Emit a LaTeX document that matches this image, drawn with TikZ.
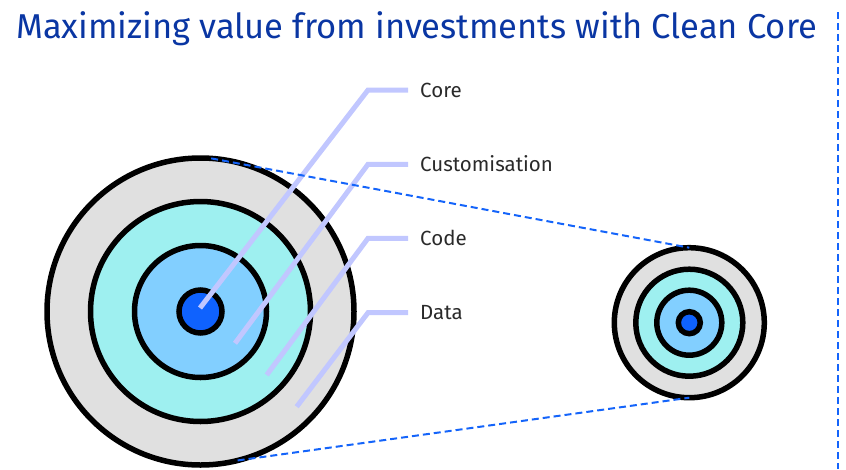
\documentclass[tikz,border=0pt]{standalone}
\usepackage{fontspec}
\setmainfont{Fira Sans}
\definecolor{titleblue}{HTML}{0A36A3}
\definecolor{dashblue}{HTML}{1464FA}
\definecolor{coreblue}{HTML}{0F62FE}
\definecolor{codeblue}{HTML}{82CFFF}
\definecolor{custteal}{HTML}{9EF0F0}
\definecolor{datagray}{HTML}{E0E0E0}
\definecolor{leader}{HTML}{C1C7FF}
\definecolor{labelgray}{HTML}{2A2A2A}
\begin{document}
\begin{tikzpicture}[x=1pt,y=-1pt,
  ring/.style={circle,draw=black,line width=5.5pt,inner sep=0pt,outer sep=0pt,minimum size=#1},
  leaderline/.style={draw=leader,line width=5pt,line cap=butt,line join=miter},
  dashline/.style={draw=dashblue,line width=2pt,dash pattern=on 7pt off 4pt},
  lbl/.style={anchor=base west,inner sep=0pt,font=\fontsize{20.5}{24}\selectfont,text=labelgray}]
\useasboundingbox (0,0) rectangle (846,469);
% title
\node[anchor=base west,inner sep=0pt,text=titleblue,font=\fontsize{34.5}{40}\selectfont] (title) at (16,38) {Maximizing value from investments with Clean Core};
% big target
\node[ring=307pt,fill=datagray] (bigdata) at (200.5,311.5) {};
\node[ring=220pt,fill=custteal] (bigcust) at (200.5,311.5) {};
\node[ring=132pt,fill=codeblue] (bigcode) at (200.5,311.5) {};
\node[ring=43pt,fill=coreblue] (bigcore) at (200.5,311.5) {};
% small target
\node[ring=150pt,fill=datagray] (smalldata) at (689.3,322.7) {};
\node[ring=107pt,fill=custteal] (smallcust) at (689.3,322.7) {};
\node[ring=65pt,fill=codeblue] (smallcode) at (689.3,322.7) {};
\node[ring=22pt,fill=coreblue] (smallcore) at (689.3,322.7) {};
% labels
\node[lbl] (lcore) at (420,97) {Core};
\node[lbl] (lcust) at (420,171) {Customisation};
\node[lbl] (lcode) at (420,245.3) {Code};
\node[lbl] (ldata) at (420,319.6) {Data};
% leader points
\coordinate (pcore) at (200,308);
\coordinate (pcust) at (235,343.3);
\coordinate (pcode) at (266.7,375);
\coordinate (pdata) at (296.7,406.7);
\coordinate (kcore) at (368,90);
\coordinate (kcust) at (368,164.3);
\coordinate (kcode) at (368,238.3);
\coordinate (kdata) at (368,312.7);
\draw[leaderline] (pcore) -- (kcore) -- ([xshift=-12pt]lcore.west |- kcore);
\draw[leaderline] (pcust) -- (kcust) -- ([xshift=-12pt]lcust.west |- kcust);
\draw[leaderline] (pcode) -- (kcode) -- ([xshift=-12pt]lcode.west |- kcode);
\draw[leaderline] (pdata) -- (kdata) -- ([xshift=-12pt]ldata.west |- kdata);
% dashed projection lines
\draw[dashline] (bigdata.86) -- (smalldata.north);
\draw[dashline] (bigdata.-76) -- (smalldata.south);
% vertical dashed line
\coordinate (vtop) at (838,12);
\coordinate (vbot) at (838,469);
\draw[dashline] (vtop) -- (vbot);
\end{tikzpicture}
\end{document}
